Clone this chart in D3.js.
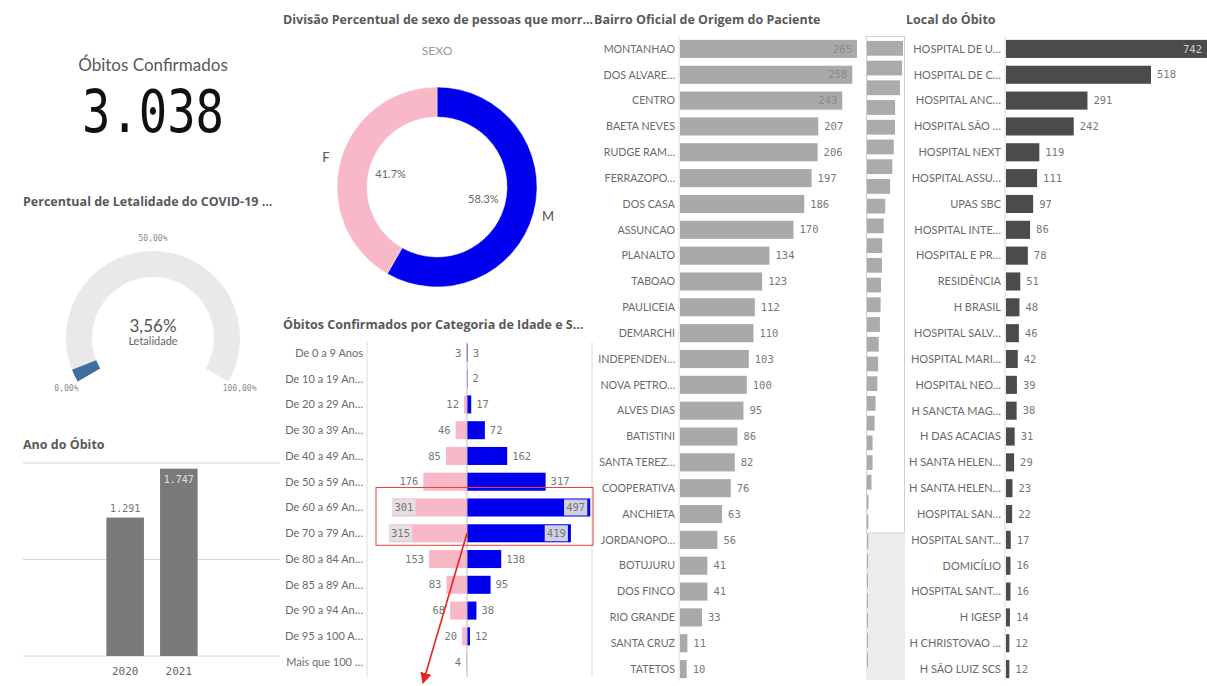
<!DOCTYPE html>
<html>
<head>
<meta charset="utf-8">
<script src="https://cdn.jsdelivr.net/npm/d3@7"></script>
<style>
  body { margin: 0; background: #fff; }
  svg { display: block; font-family: Lato, "Open Sans", sans-serif; }
  .title { font-family: "Open Sans", Lato, sans-serif; font-weight: 700; font-size: 12.5px; fill: #595959; }
  .cat { font-size: 11px; fill: #6a6a6a; }
  .num { font-family: "DejaVu Sans Mono", monospace; font-size: 10.5px; fill: #777; }
</style>
</head>
<body>
<svg id="dash" width="1207" height="686"></svg>
<script>
// ---- data
var kpiLabel = "Óbitos Confirmados";
var kpiValue = 3038;

var letalidade = 3.56;
var gaugeTicks = [0, 50, 100];

var years = ["2020", "2021"];
var yearDeaths = [1291, 1747];
var yearTicks = [0, 900, 1800];

var sexos = ["M", "F"];
var sexoPct = [58.3, 41.7];

var ageCats = ["De 0 a 9 Anos", "De 10 a 19 An…", "De 20 a 29 An…", "De 30 a 39 An…", "De 40 a 49 An…",
  "De 50 a 59 An…", "De 60 a 69 An…", "De 70 a 79 An…", "De 80 a 84 An…", "De 85 a 89 An…",
  "De 90 a 94 An…", "De 95 a 100 A…", "Mais que 100 …"];
var ageF = [3, 0, 12, 46, 85, 176, 301, 315, 153, 83, 68, 20, 4];
var ageM = [3, 2, 17, 72, 162, 317, 497, 419, 138, 95, 38, 12, 0];

var bairros = ["MONTANHAO", "DOS ALVARE…", "CENTRO", "BAETA NEVES", "RUDGE RAM…", "FERRAZOPO…", "DOS CASA",
  "ASSUNCAO", "PLANALTO", "TABOAO", "PAULICEIA", "DEMARCHI", "INDEPENDEN…", "NOVA PETRO…", "ALVES DIAS",
  "BATISTINI", "SANTA TEREZ…", "COOPERATIVA", "ANCHIETA", "JORDANOPO…", "BOTUJURU", "DOS FINCO",
  "RIO GRANDE", "SANTA CRUZ", "TATETOS"];
var bairroObitos = [265, 258, 243, 207, 206, 197, 186, 170, 134, 123, 112, 110, 103, 100, 95, 86, 82, 76, 63, 56,
  41, 41, 33, 11, 10];
var bairroRestante = [9, 8, 7, 5, 4, 2, 1];   // rows only seen in the scroll minimap

var locais = ["HOSPITAL DE U…", "HOSPITAL DE C…", "HOSPITAL ANC…", "HOSPITAL SÃO …", "HOSPITAL NEXT",
  "HOSPITAL ASSU…", "UPAS SBC", "HOSPITAL INTE…", "HOSPITAL E PR…", "RESIDÊNCIA", "H BRASIL",
  "HOSPITAL SALV…", "HOSPITAL MARI…", "HOSPITAL NEO…", "H SANCTA MAG…", "H DAS ACACIAS",
  "H SANTA HELEN…", "H SANTA HELEN…", "HOSPITAL SAN…", "HOSPITAL SANT…", "DOMICÍLIO",
  "HOSPITAL SANT…", "H IGESP", "H CHRISTOVAO …", "H SÃO LUIZ SCS"];
var localObitos = [742, 518, 291, 242, 119, 111, 97, 86, 78, 51, 48, 46, 42, 39, 38, 31, 29, 23, 22, 17, 16, 16,
  14, 12, 12];

// ---- setup
var svg = d3.select("#dash");
var ptBR = d3.formatLocale({decimal: ",", thousands: ".", grouping: [3], currency: ["R$", ""]});
var fmtInt = ptBR.format(","), fmtPct2 = ptBR.format(".2f"), fmtPct1 = d3.format(".1f");
var charW = 6.4; // approx width of one mono digit at 10.5px

function title(x, y, txt) {
  svg.append("text").attr("class", "title").attr("x", x).attr("y", y).text(txt);
}

// ---- KPI
svg.append("text")
    .attr("x", 153).attr("y", 71)
    .attr("text-anchor", "middle")
    .style("font-size", "17px").style("fill", "#595959")
    .text(kpiLabel);
svg.append("text")
    .attr("x", 153).attr("y", 132)
    .attr("text-anchor", "middle")
    .attr("textLength", 142).attr("lengthAdjust", "spacingAndGlyphs")
    .style("font-family", "'DejaVu Sans Mono', monospace")
    .style("font-size", "58px").style("fill", "#111")
    .text(fmtInt(kpiValue));

// ---- gauge
title(23, 206, "Percentual de Letalidade do COVID-19 ...");
var gauge = svg.append("g").attr("transform", "translate(153,338)");
var gA = d3.scaleLinear().domain([0, 100]).range([-2 * Math.PI / 3, 2 * Math.PI / 3]);
var gArc = d3.arc().innerRadius(61).outerRadius(87);
gauge.append("path")
    .attr("d", gArc({startAngle: gA(0), endAngle: gA(100)}))
    .attr("fill", "#e9e9e9");
gauge.append("path")
    .attr("d", gArc({startAngle: gA(0), endAngle: gA(letalidade)}))
    .attr("fill", "#3d6fa3");
gaugeTicks.forEach(function(t) {
  var a = gA(t);
  gauge.append("text")
      .attr("x", 100 * Math.sin(a)).attr("y", -100 * Math.cos(a))
      .attr("dy", "0.35em").attr("text-anchor", "middle")
      .style("font-family", "'DejaVu Sans Mono', monospace")
      .style("font-size", "8px").style("fill", "#8a8a8a")
      .text(fmtPct2(t) + "%");
});
gauge.append("text")
    .attr("y", -6).attr("text-anchor", "middle")
    .style("font-size", "17px").style("fill", "#555")
    .text(fmtPct2(letalidade) + "%");
gauge.append("text")
    .attr("y", 7).attr("text-anchor", "middle")
    .style("font-size", "11px").style("fill", "#666")
    .text("Letalidade");

// ---- Ano do Óbito
title(23, 449, "Ano do Óbito");
var yx = d3.scaleBand().domain(years).range([101, 203]).paddingInner(0.3).paddingOuter(0.1);
var yy = d3.scaleLinear().domain([0, 1800]).range([656, 463]);
svg.selectAll(".ygrid").data(yearTicks).enter().append("line")
    .attr("x1", 23).attr("x2", 280)
    .attr("y1", function(d) { return yy(d); }).attr("y2", function(d) { return yy(d); })
    .attr("stroke", "#d6d6d6");
svg.selectAll(".ybar").data(years).enter().append("rect")
    .attr("x", function(d) { return yx(d); })
    .attr("width", yx.bandwidth())
    .attr("y", function(d, i) { return yy(yearDeaths[i]); })
    .attr("height", function(d, i) { return yy(0) - yy(yearDeaths[i]); })
    .attr("fill", "#7a7a7a");
years.forEach(function(d, i) {
  var top = yy(yearDeaths[i]), inside = top - 16 < yy(1800);
  svg.append("text").attr("class", "num")
      .attr("x", yx(d) + yx.bandwidth() / 2)
      .attr("y", inside ? top + 14 : top - 6)
      .attr("text-anchor", "middle")
      .style("font-size", "10px")
      .style("fill", inside ? "#e0e0e0" : "#777")
      .text(fmtInt(yearDeaths[i]));
  svg.append("text").attr("class", "num")
      .attr("x", yx(d) + yx.bandwidth() / 2).attr("y", 675)
      .attr("text-anchor", "middle")
      .style("font-size", "11px").style("fill", "#666")
      .text(d);
});

// ---- donut sexo
title(283, 24, "Divisão Percentual de sexo de pessoas que morr...");
svg.append("text")
    .attr("x", 437).attr("y", 55).attr("text-anchor", "middle")
    .style("font-size", "12px").style("fill", "#9a9a9a")
    .text("SEXO");
var sexColor = d3.scaleOrdinal().domain(sexos).range(["#0000ee", "#f9b8c7"]);
var pie = d3.pie().sort(null).value(function(d, i) { return sexoPct[i]; });
var arcs = pie(sexos);
var donut = svg.append("g").attr("transform", "translate(437,187)");
var dArc = d3.arc().innerRadius(70).outerRadius(100);
var outArc = d3.arc().innerRadius(115).outerRadius(115);
var inArc = d3.arc().innerRadius(48).outerRadius(48);
donut.selectAll("path").data(arcs).enter().append("path")
    .attr("d", dArc)
    .attr("fill", function(d) { return sexColor(d.data); })
    .attr("stroke", "#fff").attr("stroke-width", 0.5);
donut.selectAll(".lbl").data(arcs).enter().append("text")
    .attr("transform", function(d) { return "translate(" + outArc.centroid(d) + ")"; })
    .attr("dy", "0.35em").attr("text-anchor", "middle")
    .style("font-size", "13px").style("fill", "#555")
    .text(function(d) { return d.data; });
donut.selectAll(".pct").data(arcs).enter().append("text")
    .attr("transform", function(d) { return "translate(" + inArc.centroid(d) + ")"; })
    .attr("dy", "0.35em").attr("text-anchor", "middle")
    .style("font-size", "11px").style("fill", "#666")
    .text(function(d, i) { return fmtPct1(sexoPct[i]) + "%"; });

// ---- piramide idade x sexo
title(283, 329, "Óbitos Confirmados por Categoria de Idade e S...");
var ay = d3.scaleBand().domain(ageCats).range([340, 675]).paddingInner(0.3).paddingOuter(0.15);
var axR = d3.scaleLinear().domain([0, 500]).range([467, 591]);
var axL = d3.scaleLinear().domain([0, 500]).range([467, 343]);
var pyrLeft = 367, pyrRight = 592;
[pyrLeft, pyrRight].forEach(function(x) {
  svg.append("line").attr("x1", x).attr("x2", x).attr("y1", 342).attr("y2", 677).attr("stroke", "#dcdcdc");
});
svg.selectAll(".acat").data(ageCats).enter().append("text")
    .attr("class", "cat")
    .attr("x", 363).attr("y", function(d) { return ay(d) + ay.bandwidth() / 2; })
    .attr("dy", "0.35em").attr("text-anchor", "end")
    .text(function(d) { return d; });
svg.selectAll(".barF").data(ageCats).enter().append("rect")
    .attr("x", function(d, i) { return axL(ageF[i]); })
    .attr("y", function(d) { return ay(d); })
    .attr("width", function(d, i) { return axL(0) - axL(ageF[i]); })
    .attr("height", ay.bandwidth())
    .attr("fill", sexColor("F"));
svg.selectAll(".barM").data(ageCats).enter().append("rect")
    .attr("x", axR(0))
    .attr("y", function(d) { return ay(d); })
    .attr("width", function(d, i) { return axR(ageM[i]) - axR(0); })
    .attr("height", ay.bandwidth())
    .attr("fill", sexColor("M"));
svg.append("line").attr("x1", axR(0)).attr("x2", axR(0)).attr("y1", 342).attr("y2", 677)
    .attr("stroke", "#b9b9d6");

ageCats.forEach(function(c, i) {
  var cy = ay(c) + ay.bandwidth() / 2;
  [["F", ageF[i], axL, -1, pyrLeft], ["M", ageM[i], axR, 1, pyrRight]].forEach(function(s) {
    var v = s[1];
    if (!v) return;
    var end = s[2](v), dir = s[3], w = String(v).length * charW;
    var outside = dir > 0 ? end + 5 + w < s[4] - 3 : end - 5 - w > s[4] + 3;
    if (outside) {
      svg.append("text").attr("class", "num")
          .attr("x", end + dir * 5).attr("y", cy).attr("dy", "0.35em")
          .attr("text-anchor", dir > 0 ? "start" : "end")
          .text(v);
    } else {
      var bx = dir > 0 ? end - 3 - w - 4 : end;
      svg.append("rect")
          .attr("x", bx).attr("y", ay(c) + 1)
          .attr("width", w + 4).attr("height", ay.bandwidth() - 2)
          .attr("fill", "#e2e2e2").attr("opacity", 0.92);
      svg.append("text").attr("class", "num")
          .attr("x", bx + (w + 4) / 2).attr("y", cy).attr("dy", "0.35em")
          .attr("text-anchor", "middle")
          .text(v);
    }
  });
});

// annotation drawn over the screenshot
var annTop = ay(ageCats[6]) - 11, annBot = ay(ageCats[7]) + ay.bandwidth() + 3;
svg.append("rect")
    .attr("x", pyrLeft + 9).attr("y", annTop)
    .attr("width", pyrRight + 1 - pyrLeft - 9).attr("height", annBot - annTop)
    .attr("fill", "none").attr("stroke", "#e8413c").attr("stroke-width", 1);
svg.append("defs").append("marker")
    .attr("id", "arrow").attr("viewBox", "0 0 10 10").attr("refX", 9).attr("refY", 5)
    .attr("markerWidth", 7).attr("markerHeight", 7).attr("orient", "auto")
    .append("path").attr("d", "M0,0L10,5L0,10Z").attr("fill", "#e8231f");
svg.append("line")
    .attr("x1", axR(0)).attr("y1", ay(ageCats[7]) + ay.bandwidth() / 2)
    .attr("x2", axR(0) - 44).attr("y2", 683)
    .attr("stroke", "#e8231f").attr("stroke-width", 1.6)
    .attr("marker-end", "url(#arrow)");

// ---- horizontal bar charts
function hbars(names, values, x, y, color, labelLimit, insideColor, catSize) {
  var g = svg.append("g");
  g.append("line").attr("x1", x(0) - 1).attr("x2", x(0) - 1).attr("y1", 36).attr("y2", 681)
      .attr("stroke", "#dcdcdc");
  g.selectAll(".c").data(names).enter().append("text")
      .attr("class", "cat")
      .attr("x", x(0) - 5).attr("y", function(d, i) { return y(i) + y.bandwidth() / 2; })
      .attr("dy", "0.35em").attr("text-anchor", "end")
      .style("font-size", catSize)
      .text(function(d) { return d; });
  g.selectAll(".b").data(values).enter().append("rect")
      .attr("x", x(0)).attr("y", function(d, i) { return y(i); })
      .attr("width", function(d) { return x(d) - x(0); })
      .attr("height", y.bandwidth())
      .attr("fill", color);
  values.forEach(function(v, i) {
    var end = x(v), w = String(v).length * charW, inside = end + 5 + w > labelLimit;
    g.append("text").attr("class", "num")
        .attr("x", inside ? Math.min(end, labelLimit) - 5 : end + 6)
        .attr("y", y(i) + y.bandwidth() / 2).attr("dy", "0.35em")
        .attr("text-anchor", inside ? "end" : "start")
        .style("fill", inside ? insideColor : "#777")
        .text(v);
  });
}

title(594, 24, "Bairro Oficial de Origem do Paciente");
var by = d3.scaleBand().domain(d3.range(bairros.length)).range([36, 682]).paddingInner(0.3).paddingOuter(0.15);
var bx = d3.scaleLinear().domain([0, 265]).range([680, 857]);
hbars(bairros, bairroObitos, bx, by, "#a9a9a9", 862, "#8a8a8a", "10.7px");

// scroll minimap of the bairro list
var allBairro = bairroObitos.concat(bairroRestante);
var my = d3.scaleBand().domain(d3.range(allBairro.length))
    .range([36, 36 + allBairro.length * (497 / bairros.length)]).padding(0.25);
var mx = d3.scaleLinear().domain([0, 265]).range([867, 903]);
svg.append("rect").attr("x", 866).attr("y", 533).attr("width", 39).attr("height", 147).attr("fill", "#ececec");
svg.append("rect").attr("x", 866.5).attr("y", 36.5).attr("width", 38).attr("height", 496.5)
    .attr("fill", "#fff").attr("stroke", "#cfcfcf");
svg.selectAll(".mini").data(allBairro).enter().append("rect")
    .attr("x", mx(0)).attr("y", function(d, i) { return my(i); })
    .attr("width", function(d) { return Math.max(1, mx(d) - mx(0)); })
    .attr("height", my.bandwidth())
    .attr("fill", "#ababab");

title(906, 24, "Local do Óbito");
var lx = d3.scaleLinear().domain([0, 518]).range([1006, 1151]);
hbars(locais, localObitos, lx, by, "#4b4b4b", 1207, "#cfcfcf", "11px");
</script>
</body>
</html>
